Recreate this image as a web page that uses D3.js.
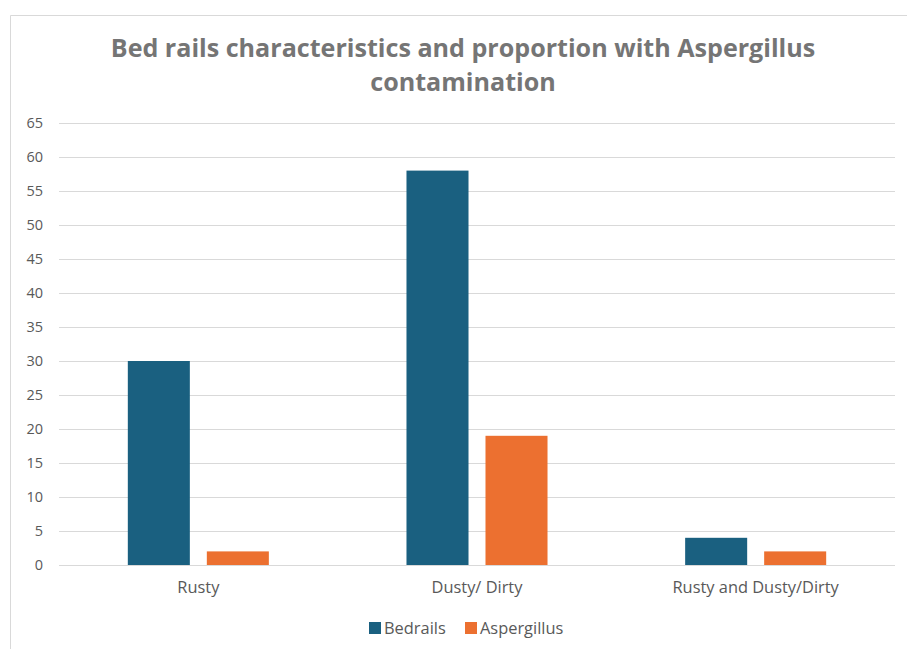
<!DOCTYPE html>
<html><head><meta charset="utf-8">
<script src="https://cdn.jsdelivr.net/npm/d3@7"></script>
<style>body{margin:0;background:#fff;} svg{display:block;}</style>
</head><body>
<script>
const categories = ["Rusty", "Dusty/ Dirty", "Rusty and Dusty/Dirty"];
const seriesNames = ["Bedrails", "Aspergillus"];
const bedrails = [30, 58, 4];
const aspergillus = [2, 19, 2];
const yTicks = [0,5,10,15,20,25,30,35,40,45,50,55,60,65];
const colors = ["#1A6080", "#EC7030"];

(function(){
const W = 907, H = 649;
const FONT = "'Open Sans', Roboto, sans-serif";
const svg = d3.select("body").append("svg").attr("width", W).attr("height", H);
svg.append("rect").attr("x",0).attr("y",0).attr("width",W).attr("height",H).attr("fill","#fff");
svg.append("path").attr("d","M10.5,649 L10.5,15.5 L907,15.5").attr("fill","none").attr("stroke","#d9d9d9").attr("stroke-width",1);

const pl = 59, pr = 895, pt = 123, pb = 565;
const x = d3.scaleBand().domain(categories).range([pl, pr]);
const x1 = d3.scaleBand().domain(seriesNames).range([0, x.bandwidth()]).paddingInner(0.215).paddingOuter(0.871);
const y = d3.scaleLinear().domain([0, 65]).range([pb, pt]);

svg.append("g").selectAll("line").data(yTicks).join("line")
  .attr("x1", pl).attr("x2", pr)
  .attr("y1", d => Math.round(y(d))+0.5).attr("y2", d => Math.round(y(d))+0.5)
  .attr("stroke", "#d9d9d9").attr("stroke-width", 1);

const yAxis = d3.axisLeft(y).tickValues(yTicks).tickSize(0).tickPadding(0);
const gy = svg.append("g").attr("transform", `translate(43,0)`).call(yAxis);
gy.select(".domain").remove();
gy.selectAll("text").attr("font-family",FONT).attr("font-size","14.5px").attr("fill","#595959");

const data = categories.map((c,i)=>({c, vals:[bedrails[i], aspergillus[i]]}));
const g = svg.append("g");
data.forEach(d => {
  seriesNames.forEach((s,j) => {
    g.append("rect")
      .attr("x", x(d.c) + x1(s))
      .attr("y", y(d.vals[j]))
      .attr("width", x1.bandwidth())
      .attr("height", y(0) - y(d.vals[j]))
      .attr("fill", colors[j]);
  });
});

const xAxis = d3.axisBottom(x).tickSize(0).tickPadding(0);
const gx = svg.append("g").attr("transform", `translate(0,${pb+16})`).call(xAxis);
gx.select(".domain").remove();
gx.selectAll("text").attr("font-family",FONT).attr("font-size","16.4px").attr("fill","#595959").attr("dy","0.71em");

const title = svg.append("text").attr("text-anchor","middle").attr("font-family",FONT)
  .attr("font-weight","bold").attr("font-size","25.1px").attr("fill","#757575");
title.append("tspan").attr("x",463).attr("y",57).text("Bed rails characteristics and proportion with Aspergillus");
title.append("tspan").attr("x",463).attr("y",91).text("contamination");

const legX = [369, 465];
seriesNames.forEach((s,j) => {
  svg.append("rect").attr("x", legX[j]).attr("y", 622).attr("width", 12).attr("height", 12).attr("fill", colors[j]);
  svg.append("text").attr("x", legX[j]+15).attr("y", 634).attr("font-family",FONT)
    .attr("font-size","16.4px").attr("fill","#595959").text(s);
});
})();
</script>
</body></html>
